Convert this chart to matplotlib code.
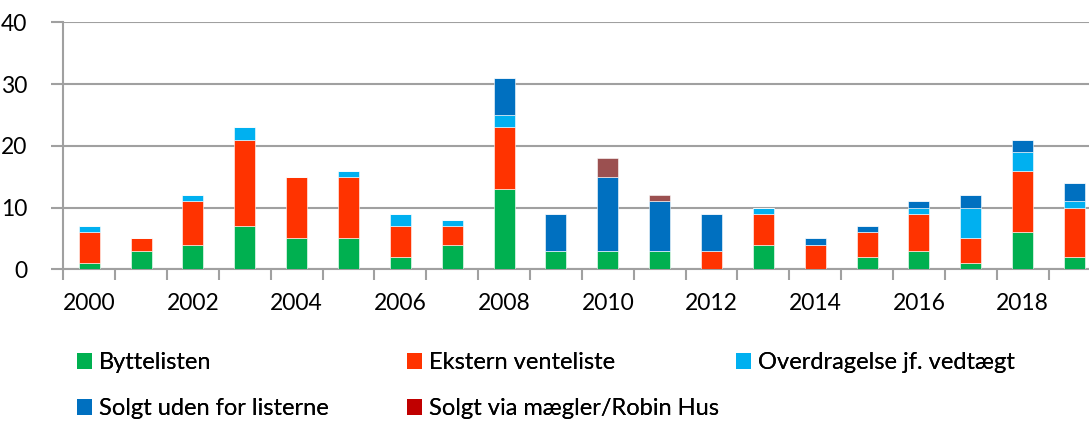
import matplotlib
matplotlib.use("Agg")
import matplotlib.pyplot as plt
from matplotlib.patches import Patch
import numpy as np

plt.rcParams['font.family'] = ['Lato', 'DejaVu Sans']

years = list(range(2000, 2020))
byttelisten = [1, 3, 4, 7, 5, 5, 2, 4, 13, 3, 3, 3, 0, 4, 0, 2, 3, 1, 6, 2]
ekstern = [5, 2, 7, 14, 10, 10, 5, 3, 10, 0, 0, 0, 3, 5, 4, 4, 6, 4, 10, 8]
overdragelse = [1, 0, 1, 2, 0, 1, 2, 1, 2, 0, 0, 0, 0, 1, 0, 0, 1, 5, 3, 1]
solgt_uden = [0, 0, 0, 0, 0, 0, 0, 0, 6, 6, 12, 8, 6, 0, 1, 1, 1, 2, 2, 3]
solgt_maegler = [0, 0, 0, 0, 0, 0, 0, 0, 0, 0, 3, 1, 0, 0, 0, 0, 0, 0, 0, 0]

series = [
    ("Byttelisten", byttelisten, "#00B050", "#00B050"),
    ("Ekstern venteliste", ekstern, "#FF3300", "#FF3300"),
    ("Overdragelse jf. vedtægt", overdragelse, "#00B0F0", "#00B0F0"),
    ("Solgt uden for listerne", solgt_uden, "#0070C0", "#0070C0"),
    ("Solgt via mægler/Robin Hus", solgt_maegler, "#9B5050", "#C00000"),
]

W, H = 1089, 421
fig = plt.figure(figsize=(W / 100, H / 100), dpi=100)
ax = fig.add_axes([63.3 / W, (H - 269.3) / H, (1100.4 - 63.3) / W, 247 / H])

x = np.arange(len(years))
bottom = np.zeros(len(years))
for name, vals, col, _ in series:
    v = np.array(vals, dtype=float)
    ax.bar(x, v, width=0.405, bottom=bottom, color=col,
           edgecolor='white', linewidth=0.4, zorder=3)
    bottom += v

ax.set_xlim(-0.5, len(years) - 0.5)
ax.set_ylim(0, 40)
ax.set_yticks([0, 10, 20, 30, 40])
ax.yaxis.grid(True, color='#A0A0A0', linewidth=1.5, zorder=0)

gray = '#A0A0A0'
for s in ['top', 'right']:
    ax.spines[s].set_visible(False)
ax.spines['left'].set_color(gray)
ax.spines['bottom'].set_color(gray)
ax.spines['left'].set_linewidth(1.5)
ax.spines['bottom'].set_linewidth(1.5)

ax.set_xticks(np.arange(-0.5, len(years), 1.0))
ax.set_xticklabels([])
ax.set_xticks(x[::2], minor=True)
ax.set_xticklabels([str(y) for y in years[::2]], minor=True)
ax.tick_params(axis='x', which='major', length=8, width=1.5, color=gray)
ax.tick_params(axis='x', which='minor', length=0, pad=17, labelsize=16.5)
ax.tick_params(axis='y', length=9, width=1.5, color=gray, pad=17, labelsize=16.5)

handles = [Patch(facecolor=lc, edgecolor='none', label=n) for n, _, _, lc in series]
cols = [([handles[0], handles[3]], 77), ([handles[1], handles[4]], 407), ([handles[2]], 736)]
for hs, xp in cols:
    leg = fig.legend(handles=hs, loc='upper left', bbox_to_anchor=(xp / W, (H - 352) / H),
                     frameon=False, fontsize=17, handlelength=0.64, handleheight=0.64,
                     handletextpad=0.28, borderpad=0, borderaxespad=0, labelspacing=1.07)
    fig.add_artist(leg)

fig.savefig("out.png", dpi=100)
